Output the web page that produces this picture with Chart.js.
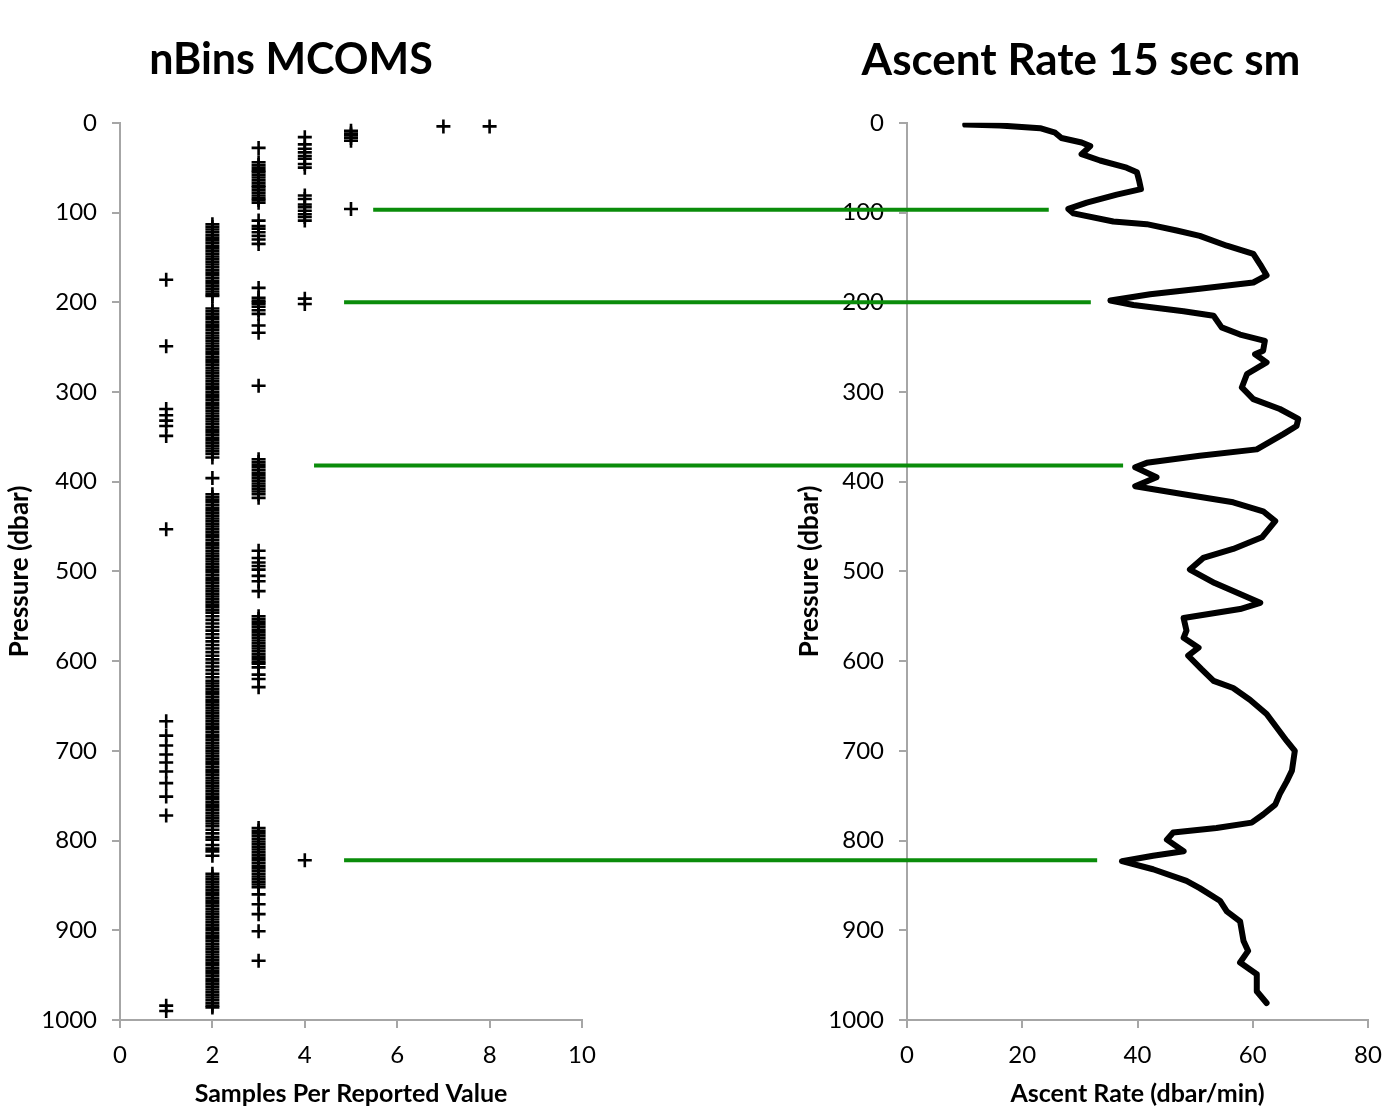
<!DOCTYPE html>
<html>
<head>
<meta charset="utf-8">
<script src="https://cdn.jsdelivr.net/npm/chart.js@4.4.1/dist/chart.umd.min.js"></script>
<style>
  body { margin: 0; background: #fff; }
  #wrap { position: relative; width: 1387px; height: 1106px; background: #fff; }
  canvas { position: absolute; left: 0; top: 0; }
</style>
</head>
<body>
<div id="wrap">
  <canvas id="nbins" width="600" height="1106"></canvas>
  <canvas id="ascent" width="1387" height="1106"></canvas>
</div>
<script>
// pressures (dbar) where each samples-per-value count was seen
const bins1 = [175, 249, 319, 326, 332, 338, 349, 453, 667, 683, 694, 704, 713, 723, 736, 751, 772, 984, 990];
const bins2 = [
  113, 116, 119, 122, 125, 128, 131, 134, 137, 140, 143, 146, 149, 152, 155, 158, 161, 164, 167, 170, 173, 176, 179, 182, 185, 188, 191, 193,
  207, 210, 213, 216, 219, 222, 225, 228, 231, 234, 237, 240, 243, 246, 249, 252, 255, 258, 261, 264, 267, 270, 273, 276, 279, 282, 285, 288,
  291, 294, 297, 300, 303, 306, 309, 312, 315, 318, 321, 324, 327, 330, 333, 336, 339, 342, 345, 348, 351, 354, 357, 360, 363, 366, 369, 373,
  396,
  414, 417, 420, 423, 426, 429, 432, 435, 438, 441, 444, 447, 450, 453, 456, 459, 462, 465, 468, 471, 474, 477, 480, 483, 486, 489, 492, 495,
  498, 501, 504, 507, 510, 513, 516, 519, 522, 525, 528, 531, 534, 537, 540, 543, 546,
  550, 554, 558, 562, 566, 570, 574, 578, 582, 586, 590, 594, 598, 602, 606, 610, 614, 618, 622,
  625, 628, 631, 634, 637, 640, 643, 646, 649, 652, 655, 658, 661, 664, 667, 670, 673, 676, 679, 682, 685, 688, 691, 694, 697, 700, 703, 706,
  709, 712, 715, 718, 721, 724, 727, 730, 733, 736, 739, 742, 745, 748, 751, 754, 757, 760, 763, 766, 769, 772, 775, 778, 781, 784,
  788, 792, 796, 799, 805, 809, 812, 817,
  837, 840, 843, 846, 849, 852, 855, 858, 861, 864, 867, 870, 873, 876, 879, 882, 885, 888, 891, 894, 897, 900, 903, 906, 909, 912, 915, 918,
  921, 924, 927, 930, 933, 936, 939, 942, 945, 948, 951, 954, 957, 960, 963, 966, 969, 972, 975, 978, 981, 984, 986
];
const bins3 = [
  28, 44, 47, 50, 53, 55, 58, 61, 64, 67, 70, 72, 75, 78, 81, 84, 86, 89,
  109, 115, 118, 122, 126, 130, 135,
  184, 195, 198, 200, 202, 205, 209, 213, 226, 234,
  293,
  375, 378, 381, 384, 387, 390, 393, 396, 399, 402, 405, 408, 411, 414, 418,
  477, 485, 490, 494, 498, 505, 511, 522,
  550, 553, 556, 559, 562, 565, 568, 571, 574, 577, 580, 583, 586, 589, 592, 595, 598, 601, 603, 607, 615, 620, 629,
  786, 789, 792, 795, 798, 801, 804, 807, 810, 813, 816, 819, 822, 825, 828, 831, 834, 837, 840, 843, 846, 849, 852, 860, 871, 882,
  901, 934
];
const bins4 = [16, 24, 29, 33, 37, 40, 46, 50, 81, 85, 91, 94, 98, 102, 105, 109, 196, 202, 822];
const bins5 = [9, 12, 14, 17, 20, 96];
const bins7 = [4];
const bins8 = [4];

// ascent rate profile, 15 s smoothing
const ascentPressure = [
  2, 3, 6, 11, 17, 22, 26, 35, 42, 50, 55, 65, 74, 80, 89, 96, 101, 110, 113, 120,
  126, 137, 146, 158, 170, 178, 185, 191, 198, 203, 210, 215, 228, 236, 243, 254, 258, 267, 280, 295,
  308, 319, 330, 338, 347, 364, 371, 379, 384, 395, 405, 414, 423, 433, 444, 462, 475, 485, 498, 513,
  535, 542, 552, 566, 574, 585, 594, 609, 622, 630, 643, 659, 689, 700, 722, 734, 748, 760, 771, 780,
  786, 791, 799, 812, 817, 823, 832, 845, 853, 867, 879, 890, 912, 923, 936, 949, 968, 981
];
const ascentRate = [
  10.1, 16.1, 23.1, 25.7, 26.8, 30.3, 31.8, 30.3, 33.5, 38.1, 39.9, 40.3, 40.6, 36.4, 31.2, 28.0, 28.9, 35.8, 41.6, 46.8,
  50.8, 55.5, 60.1, 61.3, 62.4, 60.1, 50.8, 42.2, 35.3, 39.3, 48.0, 53.2, 54.6, 57.8, 62.1, 61.8, 60.4, 62.4, 59.0, 58.1,
  60.1, 64.7, 67.9, 67.6, 65.3, 60.7, 50.8, 41.6, 39.6, 43.3, 39.6, 48.0, 56.6, 61.8, 63.9, 61.6, 56.6, 51.4, 49.1, 53.4,
  61.3, 57.8, 48.0, 48.5, 48.0, 50.6, 48.8, 51.1, 53.2, 56.6, 59.5, 62.4, 65.9, 67.3, 66.8, 65.9, 64.7, 63.9, 61.8, 59.8,
  53.7, 46.2, 45.1, 48.0, 42.7, 37.3, 42.7, 48.5, 50.8, 54.3, 55.5, 57.8, 58.4, 59.2, 57.8, 60.7, 60.7, 62.4
];

// green marker lines: pressure, start (samples axis), end (ascent rate axis)
const markPressure = [97, 200, 382, 822];
const markFromSamples = [5.48, 4.85, 4.2, 4.85];
const markToRate = [24.6, 31.9, 37.5, 33.0];

const FONT = "Lato";
const axisGray = "#a6a6a6";

function pts(xv, list) {
  return list.map(p => ({ x: xv, y: p }));
}

function pressureAxis(width, titlePad) {
  return {
    min: 0, max: 1000, reverse: true,
    afterFit(scale) { scale.width = width; },
    ticks: { stepSize: 100, color: "#000", padding: 15, font: { family: FONT, size: 24 },
             callback: v => String(v) },
    grid: { drawOnChartArea: false, tickLength: 8, color: axisGray, lineWidth: 2 },
    border: { color: axisGray, width: 2 },
    title: { display: true, text: "Pressure (dbar)", color: "#000", padding: { top: titlePad, bottom: 0 },
             font: { family: FONT, size: 26, weight: "bold" } }
  };
}

function bottomAxis(max, step, text) {
  return {
    type: "linear", min: 0, max: max,
    afterFit(scale) {
      scale.height = 86;
      // let the layout padding alone decide the right edge
      scale.paddingLeft = 0;
      scale.paddingRight = 0;
    },
    ticks: { stepSize: step, color: "#000", padding: 13, font: { family: FONT, size: 24 },
             callback: v => String(v) },
    grid: { drawOnChartArea: false, tickLength: 8, color: axisGray, lineWidth: 2 },
    border: { color: axisGray, width: 2 },
    title: { display: true, text: text, color: "#000", padding: { top: 0, bottom: -3 },
             font: { family: FONT, size: 25, weight: "bold" } }
  };
}

function titleOpts(text, size, padTop, padBottom) {
  return {
    display: true, text: text, color: "#000",
    padding: { top: padTop, bottom: padBottom },
    font: { family: FONT, size: size, weight: "bold" }
  };
}

const nbinsChart = new Chart(document.getElementById("nbins"), {
  type: "scatter",
  data: {
    datasets: [{
      data: [].concat(pts(1, bins1), pts(2, bins2), pts(3, bins3), pts(4, bins4), pts(5, bins5), pts(7, bins7), pts(8, bins8)),
      pointStyle: "cross",
      pointRadius: 7,
      pointBorderWidth: 2.6,
      borderColor: "#000",
      backgroundColor: "#000",
      clip: false
    }]
  },
  options: {
    responsive: false,
    animation: false,
    layout: { padding: { left: 0, right: 18, top: 0, bottom: 0 } },
    plugins: { legend: { display: false }, tooltip: { enabled: false }, title: titleOpts("nBins MCOMS", 43, 34.6, 36.6) },
    scales: {
      x: bottomAxis(10, 2, "Samples Per Reported Value"),
      y: pressureAxis(120, 4)
    }
  }
});

const markLines = {
  id: "markLines",
  afterDraw(chart) {
    const fromScale = nbinsChart.scales.x;
    const ctx = chart.ctx;
    ctx.save();
    ctx.strokeStyle = "#0a8c0a";
    ctx.lineWidth = 4;
    markPressure.forEach((p, i) => {
      const py = chart.scales.y.getPixelForValue(p);
      ctx.beginPath();
      ctx.moveTo(fromScale.getPixelForValue(markFromSamples[i]), py);
      ctx.lineTo(chart.scales.x.getPixelForValue(markToRate[i]), py);
      ctx.stroke();
    });
    ctx.restore();
  }
};

new Chart(document.getElementById("ascent"), {
  type: "scatter",
  data: {
    datasets: [{
      data: ascentPressure.map((p, i) => ({ x: ascentRate[i], y: p })),
      showLine: true,
      borderColor: "#000",
      borderWidth: 6,
      borderJoinStyle: "round",
      borderCapStyle: "round",
      pointRadius: 0,
      tension: 0
    }]
  },
  options: {
    responsive: false,
    animation: false,
    layout: { padding: { left: 794, right: 19, top: 0, bottom: 0 } },
    plugins: { legend: { display: false }, tooltip: { enabled: false }, title: titleOpts("Ascent Rate 15 sec sm", 44, 34, 36) },
    scales: {
      x: bottomAxis(80, 20, "Ascent Rate (dbar/min)"),
      y: pressureAxis(113, 0)
    }
  },
  plugins: [markLines]
});
</script>
</body>
</html>
